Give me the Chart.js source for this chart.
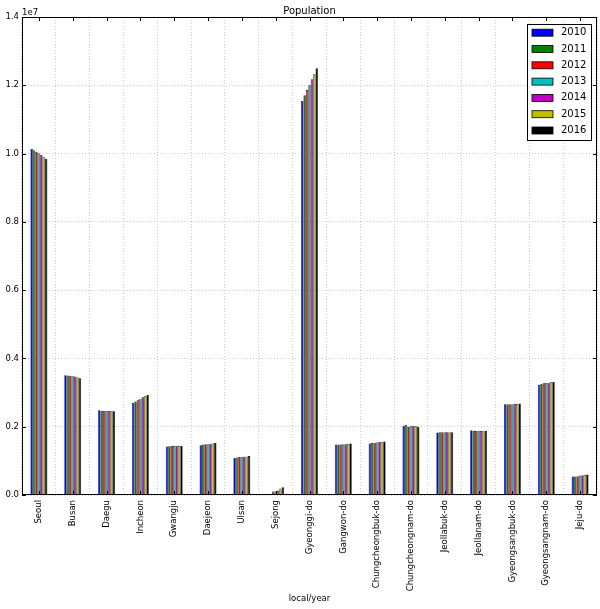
<!DOCTYPE html>
<html>
<head>
<meta charset="utf-8">
<script src="https://cdn.jsdelivr.net/npm/chart.js@4.4.1/dist/chart.umd.min.js"></script>
<style>
  html, body { margin: 0; padding: 0; background: #fff; }
  #wrap { width: 600px; height: 609px; }
</style>
</head>
<body>
<div id="wrap"><canvas id="chart"></canvas></div>
<script>
const regions = ['Seoul', 'Busan', 'Daegu', 'Incheon', 'Gwangju', 'Daejeon', 'Ulsan', 'Sejong',
	'Gyeonggi-do', 'Gangwon-do', 'Chungcheongbuk-do', 'Chungcheongnam-do', 'Jeollabuk-do',
	'Jeollanam-do', 'Gyeongsangbuk-do', 'Gyeongsangnam-do', 'Jeju-do'];
const years = ['2010', '2011', '2012', '2013', '2014', '2015', '2016'];

const pop2010 = [10140000, 3510000, 2480000, 2700000, 1420000, 1460000, 1090000, null, 11540000, 1480000, 1510000, 2030000, 1830000, 1900000, 2660000, 3230000, 540000];
const pop2011 = [10100000, 3500000, 2470000, 2740000, 1430000, 1480000, 1100000, null, 11710000, 1480000, 1520000, 2050000, 1840000, 1880000, 2660000, 3260000, 540000];
const pop2012 = [10050000, 3490000, 2460000, 2790000, 1440000, 1490000, 1110000, 100000, 11860000, 1480000, 1530000, 1990000, 1840000, 1880000, 2660000, 3270000, 550000];
const pop2013 = [10010000, 3480000, 2460000, 2820000, 1440000, 1490000, 1120000, 110000, 12000000, 1490000, 1540000, 2010000, 1840000, 1880000, 2660000, 3280000, 570000];
const pop2014 = [9960000, 3470000, 2460000, 2860000, 1440000, 1500000, 1120000, 130000, 12180000, 1490000, 1550000, 2030000, 1840000, 1880000, 2670000, 3290000, 580000];
const pop2015 = [9910000, 3450000, 2460000, 2890000, 1440000, 1510000, 1130000, 190000, 12320000, 1500000, 1560000, 2010000, 1840000, 1880000, 2670000, 3300000, 590000];
const pop2016 = [9850000, 3420000, 2450000, 2930000, 1440000, 1520000, 1140000, 230000, 12500000, 1510000, 1570000, 2000000, 1840000, 1880000, 2680000, 3310000, 600000];

const series = [pop2010, pop2011, pop2012, pop2013, pop2014, pop2015, pop2016];
const yearColors = ['#0000ff', '#008000', '#ff0000', '#00bfbf', '#bf00bf', '#bfbf00', '#000000'];

const FONT = '"DejaVu Sans", sans-serif';

// frame, inward ticks, title, offset text and legend box (matplotlib look)
const decorPlugin = {
	id: 'decor',
	afterDatasetsDraw(chart) {
		const { ctx, chartArea: a, scales } = chart;
		ctx.save();
		ctx.strokeStyle = '#000';
		ctx.lineWidth = 1;

		ctx.beginPath();
		scales.y.ticks.forEach((t, i) => {
			const py = Math.round(scales.y.getPixelForTick(i)) + 0.5;
			ctx.moveTo(a.left, py); ctx.lineTo(a.left + 4, py);
			ctx.moveTo(a.right, py); ctx.lineTo(a.right - 4, py);
		});
		scales.x.ticks.forEach((t, i) => {
			const px = Math.round(scales.x.getPixelForTick(i)) + 0.5;
			ctx.moveTo(px, a.bottom); ctx.lineTo(px, a.bottom - 4);
			ctx.moveTo(px, a.top); ctx.lineTo(px, a.top + 4);
		});
		ctx.stroke();

		ctx.strokeRect(Math.round(a.left) + 0.5, Math.round(a.top) + 0.5,
			Math.round(a.right - a.left) - 1, Math.round(a.bottom - a.top) - 1);

		ctx.fillStyle = '#000';
		ctx.font = '10px ' + FONT;
		ctx.textAlign = 'center';
		ctx.textBaseline = 'middle';
		ctx.fillText('Population', (a.left + a.right) / 2, 11);

		ctx.font = '8.5px ' + FONT;
		ctx.textAlign = 'left';
		ctx.fillText('1e7', a.left, 13);

		// legend
		const lx = 527.5, ly = 24.5, lw = 64, lh = 116;
		ctx.fillStyle = '#fff';
		ctx.fillRect(lx, ly, lw, lh);
		ctx.strokeRect(lx, ly, lw, lh);
		ctx.font = '10px ' + FONT;
		years.forEach((yr, i) => {
			const cy = 32.7 + i * 16.3;
			ctx.fillStyle = yearColors[i];
			ctx.fillRect(532, cy - 3.5, 21, 7);
			ctx.lineWidth = 0.8;
			ctx.strokeRect(532, cy - 3.5, 21, 7);
			ctx.fillStyle = '#000';
			ctx.fillText(yr, 561, cy);
		});
		ctx.restore();
	}
};

const gridStyle = {
	color: '#aaaaaa',
	lineWidth: 0.6,
	tickLength: 0,
	drawTicks: false
};

new Chart(document.getElementById('chart'), {
	type: 'bar',
	data: {
		labels: regions,
		datasets: years.map((yr, i) => ({
			label: yr,
			data: series[i],
			backgroundColor: yearColors[i],
			borderColor: '#000000',
			borderWidth: 0.6,
			categoryPercentage: 0.5,
			barPercentage: 1.0
		}))
	},
	options: {
		responsive: true,
		maintainAspectRatio: false,
		animation: false,
		layout: { padding: { top: 17, right: 3, left: 0, bottom: 0 } },
		plugins: {
			legend: { display: false },
			title: { display: false },
			tooltip: { enabled: false }
		},
		scales: {
			x: {
				grid: { ...gridStyle },
				border: { display: false, dash: [1, 2] },
				ticks: {
					color: '#000',
					font: { family: FONT, size: 8.5 },
					minRotation: 90,
					maxRotation: 90,
					autoSkip: false,
					padding: 5
				},
				title: {
					display: true,
					text: 'local/year',
					color: '#000',
					font: { family: FONT, size: 8.5 },
					padding: { top: 2, bottom: 5 }
				},
				afterFit(scale) { scale.height = 114; }
			},
			y: {
				min: 0,
				max: 14000000,
				grid: { ...gridStyle },
				border: { display: false, dash: [1, 2] },
				ticks: {
					stepSize: 2000000,
					color: '#000',
					font: { family: FONT, size: 8.5 },
					padding: 3,
					callback: v => (v / 1e7).toFixed(1)
				},
				afterFit(scale) { scale.width = 22; }
			}
		}
	},
	plugins: [decorPlugin]
});
</script>
</body>
</html>
